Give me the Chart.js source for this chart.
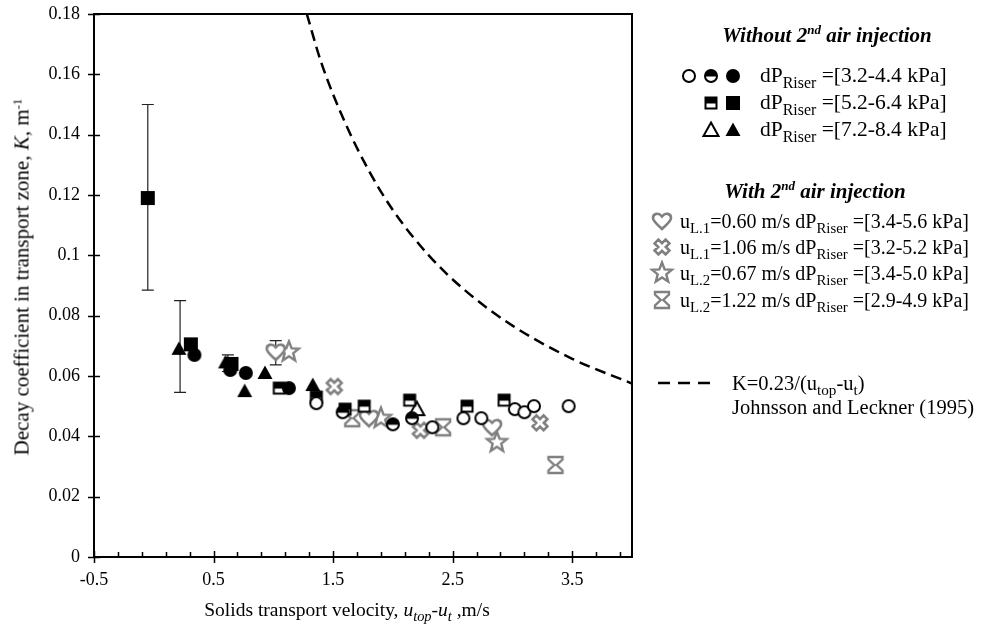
<!DOCTYPE html>
<html>
<head>
<meta charset="utf-8">
<script src="https://cdn.jsdelivr.net/npm/chart.js@4.4.0/dist/chart.umd.min.js"></script>
<style>
body{margin:0;background:#fff;}
#wrap{position:relative;width:999px;height:629px;font-family:'Liberation Serif','Times New Roman',serif;color:#000;overflow:hidden;}
#chart{position:absolute;left:0;top:0;}
.t{position:absolute;white-space:nowrap;font-size:20.5px;line-height:1;transform:translateY(-50%);}
.t sub{font-size:74%;vertical-align:-0.35em;line-height:0;}
.t sup{font-size:62%;vertical-align:0.55em;line-height:0;}
.h{font-weight:bold;font-style:italic;font-size:21px;transform:translate(-50%,-50%);}
.g1{font-size:21.5px;}
.g2{font-size:20px;}
.m{position:absolute;}
</style>
</head>
<body>
<div id="wrap">
<canvas id="chart" width="999" height="629"></canvas>

<div class="t" style="left:22px;top:277px;font-size:21px;transform:translate(-50%,-50%) rotate(-90deg);">Decay coefficient in transport zone, <i>K</i>, m<sup>-1</sup></div>
<div class="t" style="left:347px;top:610px;font-size:19.5px;transform:translate(-50%,-50%);">Solids transport velocity, <i>u<sub>top</sub></i>-<i>u<sub>t</sub></i> ,m/s</div>

<div class="t h" style="left:827px;top:35px;">Without 2<sup>nd</sup> air injection</div>
<div class="t g1" style="left:760px;top:76px;">dP<sub>Riser</sub> =[3.2-4.4 kPa]</div>
<div class="t g1" style="left:760px;top:103px;">dP<sub>Riser</sub> =[5.2-6.4 kPa]</div>
<div class="t g1" style="left:760px;top:130px;">dP<sub>Riser</sub> =[7.2-8.4 kPa]</div>

<div class="t h" style="left:815px;top:191px;">With 2<sup>nd</sup> air injection</div>
<div class="t g2" style="left:680px;top:221px;">u<sub>L.1</sub>=0.60 m/s dP<sub>Riser</sub> =[3.4-5.6 kPa]</div>
<div class="t g2" style="left:680px;top:247px;">u<sub>L.1</sub>=1.06 m/s dP<sub>Riser</sub> =[3.2-5.2 kPa]</div>
<div class="t g2" style="left:680px;top:273px;">u<sub>L.2</sub>=0.67 m/s dP<sub>Riser</sub> =[3.4-5.0 kPa]</div>
<div class="t g2" style="left:680px;top:300px;">u<sub>L.2</sub>=1.22 m/s dP<sub>Riser</sub> =[2.9-4.9 kPa]</div>

<div class="t" style="left:732px;top:383px;">K=0.23/(u<sub>top</sub>-u<sub>t</sub>)</div>
<div class="t" style="left:732px;top:407px;">Johnsson and Leckner (1995)</div>
</div>

<script>
// axis ticks
var xTickValues = [-0.5, 0.5, 1.5, 2.5, 3.5]
var xTickLabels = ['-0.5', '0.5', '1.5', '2.5', '3.5']
var yTickValues = [0, 0.02, 0.04, 0.06, 0.08, 0.1, 0.12, 0.14, 0.16, 0.18]
var yTickLabels = ['0', '0.02', '0.04', '0.06', '0.08', '0.1', '0.12', '0.14', '0.16', '0.18']

// without 2nd air injection
var openCircleX = [1.36, 2.33, 2.59, 2.74, 3.02, 3.10, 3.18, 3.47]
var openCircleY = [0.051, 0.043, 0.046, 0.046, 0.049, 0.048, 0.050, 0.050]
var halfCircleX = [1.58, 2.00, 2.16]
var halfCircleY = [0.048, 0.044, 0.046]
var fullCircleX = [0.34, 0.64, 0.77, 1.13]
var fullCircleY = [0.067, 0.062, 0.061, 0.056]
var halfSquareX = [1.05, 1.36, 1.60, 1.76, 2.14, 2.62, 2.93]
var halfSquareY = [0.056, 0.053, 0.049, 0.050, 0.052, 0.050, 0.052]
var fullSquareX = [-0.05, 0.31, 0.65]
var fullSquareY = [0.119, 0.0705, 0.064]
var openTriangleX = [2.20]
var openTriangleY = [0.049]
var fullTriangleX = [0.21, 0.60, 0.76, 0.93, 1.33]
var fullTriangleY = [0.069, 0.0645, 0.055, 0.061, 0.057]

// with 2nd air injection
var heartX = [1.02, 1.80, 2.83]
var heartY = [0.068, 0.046, 0.043]
var crossX = [1.51, 2.23, 3.23]
var crossY = [0.0565, 0.042, 0.0445]
var starX = [1.13, 1.90, 2.87]
var starY = [0.068, 0.046, 0.038]
var hourglassX = [1.66, 2.42, 3.36]
var hourglassY = [0.046, 0.043, 0.0305]

// error bars
var errX = [-0.05, 0.22, 0.62, 1.02]
var errLow = [0.0885, 0.0546, 0.0615, 0.0637]
var errHigh = [0.150, 0.085, 0.067, 0.0717]

// Johnsson and Leckner curve
var curveX = [1.28, 1.4, 1.6, 1.8, 2.0, 2.3, 2.6, 3.0, 3.5, 4.0]
var curveY = [0.18, 0.164, 0.144, 0.128, 0.115, 0.100, 0.0885, 0.0767, 0.0657, 0.0575]

var grey = '#808080'

function marker(kind) {
    var c = document.createElement('canvas')
    var s = 26
    c.width = s
    c.height = s
    var g = c.getContext('2d')
    g.translate(s / 2, s / 2)
    g.fillStyle = '#fff'
    g.strokeStyle = '#000'
    g.lineWidth = 2
    if (kind == 'openCircle' || kind == 'halfCircle') {
        g.beginPath()
        g.arc(0, 0, 6, 0, Math.PI * 2)
        g.fill()
        if (kind == 'halfCircle') {
            g.save()
            g.clip()
            g.fillStyle = '#000'
            g.fillRect(-7, -7, 14, 7.5)
            g.restore()
        }
        g.stroke()
    } else if (kind == 'fullCircle') {
        g.beginPath()
        g.arc(0, 0, 7, 0, Math.PI * 2)
        g.fillStyle = '#000'
        g.fill()
    } else if (kind == 'halfSquare') {
        g.fillStyle = '#000'
        g.fillRect(-6.5, -6.5, 13, 13)
        g.fillStyle = '#fff'
        g.fillRect(-4.5, 0.5, 9, 4)
    } else if (kind == 'fullSquare') {
        g.fillStyle = '#000'
        g.fillRect(-7, -7, 14, 14)
    } else if (kind == 'openTriangle' || kind == 'fullTriangle') {
        g.beginPath()
        g.moveTo(0, -7.5)
        g.lineTo(7.5, 6)
        g.lineTo(-7.5, 6)
        g.closePath()
        if (kind == 'fullTriangle') g.fillStyle = '#000'
        g.fill()
        if (kind == 'openTriangle') g.stroke()
    } else if (kind == 'heart') {
        g.beginPath()
        g.moveTo(0, 8)
        g.bezierCurveTo(-4, 4, -9, 0.5, -9, -3)
        g.bezierCurveTo(-9, -7.5, -3.5, -9, 0, -4.5)
        g.bezierCurveTo(3.5, -9, 9, -7.5, 9, -3)
        g.bezierCurveTo(9, 0.5, 4, 4, 0, 8)
        g.closePath()
        g.fill()
        g.strokeStyle = grey
        g.lineWidth = 2.6
        g.stroke()
    } else if (kind == 'cross') {
        var a = 2.7, b = 7.8
        var pts = [[a, -b], [a, -a], [b, -a], [b, a], [a, a], [a, b], [-a, b], [-a, a], [-b, a], [-b, -a], [-a, -a], [-a, -b]]
        g.rotate(Math.PI / 4)
        g.beginPath()
        pts.forEach(function(p, i) { i ? g.lineTo(p[0], p[1]) : g.moveTo(p[0], p[1]) })
        g.closePath()
        g.fill()
        g.strokeStyle = grey
        g.lineWidth = 2.6
        g.stroke()
    } else if (kind == 'star') {
        g.beginPath()
        for (var i = 0; i < 10; i++) {
            var r = i % 2 ? 4.5 : 10.5
            var ang = -Math.PI / 2 + i * Math.PI / 5
            g.lineTo(Math.cos(ang) * r, Math.sin(ang) * r)
        }
        g.closePath()
        g.fill()
        g.strokeStyle = grey
        g.lineWidth = 2.4
        g.stroke()
    } else if (kind == 'hourglass') {
        var hp = [[-7, -8], [7, -8], [7, -5.5], [1.3, 0], [7, 5.5], [7, 8], [-7, 8], [-7, 5.5], [-1.3, 0], [-7, -5.5]]
        g.beginPath()
        hp.forEach(function(p, i) { i ? g.lineTo(p[0], p[1]) : g.moveTo(p[0], p[1]) })
        g.closePath()
        g.fill()
        g.strokeStyle = grey
        g.lineWidth = 2.4
        g.stroke()
    }
    return c
}

function pts(xs, ys) {
    return xs.map(function(x, i) { return {x: x, y: ys[i]} })
}

function markerSet(xs, ys, kind) {
    return {
        type: 'scatter',
        data: pts(xs, ys),
        pointStyle: marker(kind),
        pointRadius: 7,
        showLine: false
    }
}

// legend symbols
var legendMarkers = [
    ['openCircle', 689, 76], ['halfCircle', 711, 76], ['fullCircle', 733, 76],
    ['halfSquare', 711, 103], ['fullSquare', 733, 103],
    ['openTriangle', 711, 130], ['fullTriangle', 733, 130],
    ['heart', 662, 221], ['cross', 662, 247], ['star', 662, 273], ['hourglass', 662, 300]
]
legendMarkers.forEach(function(m) {
    var c = marker(m[0])
    c.className = 'm'
    c.style.left = (m[1] - 13) + 'px'
    c.style.top = (m[2] - 13) + 'px'
    document.getElementById('wrap').appendChild(c)
})
var dash = document.createElement('canvas')
dash.width = 60
dash.height = 6
dash.className = 'm'
dash.style.left = '656px'
dash.style.top = '380px'
var dg = dash.getContext('2d')
dg.setLineDash([12, 8])
dg.lineWidth = 2.5
dg.beginPath()
dg.moveTo(2, 3)
dg.lineTo(58, 3)
dg.stroke()
document.getElementById('wrap').appendChild(dash)

var framePlugin = {
    id: 'frame',
    beforeDatasetsDraw: function(chart) {
        var ctx = chart.ctx
        var xs = chart.scales.x, ys = chart.scales.y
        ctx.save()
        ctx.strokeStyle = '#222'
        ctx.lineWidth = 1.2
        errX.forEach(function(x, i) {
            var px = xs.getPixelForValue(x)
            var lo = ys.getPixelForValue(errLow[i])
            var hi = ys.getPixelForValue(errHigh[i])
            ctx.beginPath()
            ctx.moveTo(px, lo)
            ctx.lineTo(px, hi)
            ctx.moveTo(px - 6, lo)
            ctx.lineTo(px + 6, lo)
            ctx.moveTo(px - 6, hi)
            ctx.lineTo(px + 6, hi)
            ctx.stroke()
        })
        ctx.restore()
    },
    afterDraw: function(chart) {
        var ctx = chart.ctx
        var a = chart.chartArea
        var xs = chart.scales.x, ys = chart.scales.y
        ctx.save()
        ctx.strokeStyle = '#000'
        ctx.lineWidth = 2
        ctx.strokeRect(a.left, a.top, a.right - a.left, a.bottom - a.top)
        ctx.lineWidth = 1.5
        ctx.beginPath()
        yTickValues.forEach(function(v) {
            var py = Math.round(ys.getPixelForValue(v)) + 0.5
            ctx.moveTo(a.left - 6, py)
            ctx.lineTo(a.left + 6, py)
        })
        xTickValues.forEach(function(v) {
            var px = Math.round(xs.getPixelForValue(v)) + 0.5
            ctx.moveTo(px, a.bottom - 6)
            ctx.lineTo(px, a.bottom + 6)
        })
        for (var k = 0; k < 23; k++) {
            var v = -0.5 + k * 0.2
            if (k % 5 == 0 || v > 4) continue
            var px = Math.round(xs.getPixelForValue(v)) + 0.5
            ctx.moveTo(px, a.bottom - 5)
            ctx.lineTo(px, a.bottom)
        }
        ctx.stroke()
        ctx.restore()
    }
}

new Chart(document.getElementById('chart'), {
    type: 'scatter',
    data: {
        datasets: [
            {
                type: 'line',
                data: pts(curveX, curveY),
                borderColor: '#000',
                borderWidth: 2.5,
                borderDash: [11, 6],
                pointRadius: 0,
                fill: false,
                cubicInterpolationMode: 'monotone'
            },
            markerSet(openCircleX, openCircleY, 'openCircle'),
            markerSet(halfCircleX, halfCircleY, 'halfCircle'),
            markerSet(fullCircleX, fullCircleY, 'fullCircle'),
            markerSet(halfSquareX, halfSquareY, 'halfSquare'),
            markerSet(fullSquareX, fullSquareY, 'fullSquare'),
            markerSet(openTriangleX, openTriangleY, 'openTriangle'),
            markerSet(fullTriangleX, fullTriangleY, 'fullTriangle'),
            markerSet(heartX, heartY, 'heart'),
            markerSet(crossX, crossY, 'cross'),
            markerSet(starX, starY, 'star'),
            markerSet(hourglassX, hourglassY, 'hourglass')
        ]
    },
    options: {
        responsive: false,
        animation: false,
        events: [],
        layout: {padding: {left: 0, top: 14, right: 367, bottom: 0}},
        plugins: {legend: {display: false}, tooltip: {enabled: false}},
        scales: {
            x: {
                type: 'linear',
                min: -0.5,
                max: 4.0,
                afterBuildTicks: function(s) { s.ticks = xTickValues.map(function(v) { return {value: v} }) },
                afterFit: function(s) { s.height = 72; s.paddingLeft = 0; s.paddingRight = 0 },
                grid: {display: false, drawTicks: false},
                border: {display: false},
                ticks: {
                    padding: 12,
                    color: '#000',
                    font: {family: 'Liberation Serif', size: 18},
                    maxRotation: 0,
                    callback: function(v) { return xTickLabels[xTickValues.indexOf(v)] }
                }
            },
            y: {
                type: 'linear',
                min: 0,
                max: 0.18,
                afterBuildTicks: function(s) { s.ticks = yTickValues.map(function(v) { return {value: v} }) },
                afterFit: function(s) { s.width = 94; s.paddingTop = 0; s.paddingBottom = 0 },
                grid: {display: false, drawTicks: false},
                border: {display: false},
                ticks: {
                    padding: 14,
                    color: '#000',
                    font: {family: 'Liberation Serif', size: 18},
                    callback: function(v) { return yTickLabels[yTickValues.indexOf(v)] }
                }
            }
        }
    },
    plugins: [framePlugin]
})
</script>
</body>
</html>
